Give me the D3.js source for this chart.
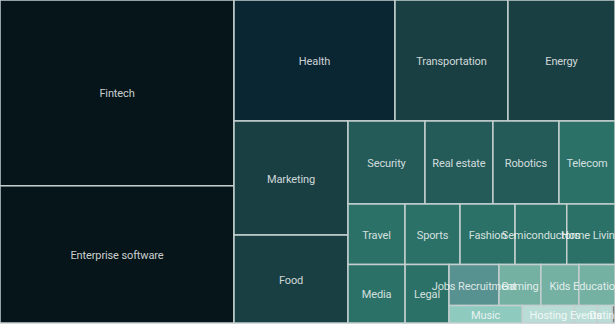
<!DOCTYPE html>
<html>
<head>
<meta charset="utf-8">
<script src="https://cdn.jsdelivr.net/npm/d3@7"></script>
<style>
  html, body { margin: 0; padding: 0; background: #ffffff; overflow: hidden; }
  svg { display: block; }
</style>
</head>
<body>
<svg id="chart" width="615" height="324"></svg>
<script>
// ---- data ----
const categories = [
  "Fintech", "Enterprise software",
  "Health", "Transportation", "Energy",
  "Marketing", "Food",
  "Security", "Real estate", "Robotics", "Telecom",
  "Travel", "Sports", "Fashion", "Semiconductors", "Home Living",
  "Media",
  "Legal",
  "Jobs Recruitment", "Gaming", "Kids", "Education",
  "Music", "Hosting", "Events", "Dating", "Other"
];
const values = [
  434.8, 321.1,
  194.8, 136.7, 129.5,
  130.0, 100.3,
  63.9, 56.4, 54.8, 46.5,
  34.5, 33.3, 33.3, 31.3, 29.2,
  33.4,
  25.7,
  20.5, 17.2, 15.6, 14.8,
  12.8, 9.1, 4.0, 2.6, 0.5
];
// which strip (row/column of the treemap) each category belongs to
const strips = [
  0, 0,
  1, 1, 1,
  2, 2,
  3, 3, 3, 3,
  4, 4, 4, 4, 4,
  5,
  6,
  7, 7, 7, 7,
  8, 8, 8, 8, 8
];
const colorThresholds = [1, 10, 14, 20, 25, 50, 90, 150, 300];
const colorRange = ["#7a7a7a", "#b9ddd6", "#8fcabf", "#74b1a3", "#579290",
                    "#2c7167", "#245b59", "#1a3f43", "#0b2633", "#051519"];

// ---- build hierarchy: root -> strips -> leaves ----
const stripIds = Array.from(new Set(strips));
const rootData = {
  name: "root",
  children: stripIds.map(s => ({
    name: "strip" + s,
    children: categories
      .map((c, i) => ({ name: c, value: values[i], strip: strips[i] }))
      .filter(d => d.strip === s)
  }))
};

const W = 615, H = 323;

// worst aspect ratio of a strip laid along a side of given length
function worst(node, along, total, areaTotal) {
  const thick = node.value / total * areaTotal / along;
  let w = 1;
  node.children.forEach(ch => {
    const len = ch.value / node.value * along;
    w = Math.max(w, len / thick, thick / len);
  });
  return w;
}

// squarify-style strip tiling: each strip takes the orientation
// that keeps its cells closest to square
function stripTile(parent, x0, y0, x1, y1) {
  if (parent.depth === 0) {
    let remaining = parent.value;
    parent.children.forEach(strip => {
      const dx = x1 - x0, dy = y1 - y0;
      const area = dx * dy;
      const asRow = worst(strip, dx, remaining, area);   // strip across the top
      const asCol = worst(strip, dy, remaining, area);   // strip down the left
      const frac = strip.value / remaining;
      if (asRow < asCol) {
        strip.dice = true;
        strip.x0 = x0; strip.x1 = x1;
        strip.y0 = y0; strip.y1 = y0 + dy * frac;
        y0 = strip.y1;
      } else {
        strip.dice = false;
        strip.y0 = y0; strip.y1 = y1;
        strip.x0 = x0; strip.x1 = x0 + dx * frac;
        x0 = strip.x1;
      }
      remaining -= strip.value;
    });
  } else {
    (parent.dice ? d3.treemapDice : d3.treemapSlice)(parent, x0, y0, x1, y1);
  }
}

const root = d3.hierarchy(rootData).sum(d => d.value || 0);
d3.treemap().size([W, H]).tile(stripTile)(root);

const color = d3.scaleThreshold().domain(colorThresholds).range(colorRange);

const svg = d3.select("#chart");
const leaves = root.leaves();

const g = svg.append("g");
g.selectAll("rect")
  .data(leaves)
  .join("rect")
  .attr("x", d => d.x0)
  .attr("y", d => d.y0)
  .attr("width", d => d.x1 - d.x0)
  .attr("height", d => d.y1 - d.y0)
  .attr("fill", d => color(d.data.value))
  .attr("stroke", "#c4cfcf")
  .attr("stroke-width", 1.5);

g.selectAll("text")
  .data(leaves.filter(d => d.data.name !== "Other"))
  .join("text")
  .attr("x", d => (d.x0 + d.x1) / 2)
  .attr("y", d => (d.y0 + d.y1) / 2)
  .attr("dy", 1)
  .attr("text-anchor", "middle")
  .attr("dominant-baseline", "central")
  .attr("font-family", "Roboto, 'Noto Sans', sans-serif")
  .attr("font-size", 11)
  .attr("letter-spacing", -0.12)
  .attr("fill", "#ffffff")
  .attr("fill-opacity", 0.8)
  .text(d => d.data.name);
</script>
</body>
</html>
